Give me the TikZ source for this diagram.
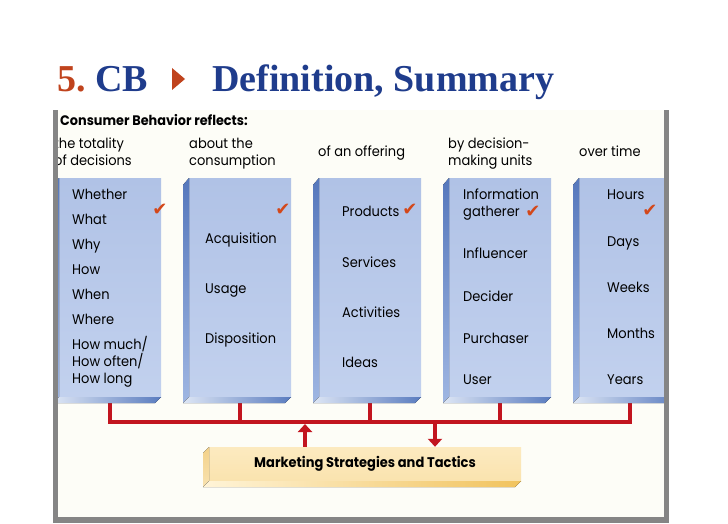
\documentclass[tikz,border=0pt]{standalone}
\usepackage{fontspec}
\setmainfont{Poppins}[FakeStretch=0.93]
\newfontfamily\titlefont{Liberation Serif}
\newfontfamily\symfont{DejaVu Sans}
\usetikzlibrary{arrows.meta}
\definecolor{tred}{HTML}{C0431D}
\definecolor{tnavy}{HTML}{1F3C8C}
\definecolor{panel}{HTML}{FDFDF7}
\definecolor{framegray}{HTML}{858585}
\definecolor{faceA}{HTML}{B0C2E6}
\definecolor{faceB}{HTML}{C2D1EE}
\definecolor{bevA}{HTML}{5678BC}
\definecolor{bevB}{HTML}{9FB6E2}
\definecolor{botA}{HTML}{DDE6F5}
\definecolor{botB}{HTML}{5A7CBF}
\definecolor{yfaceA}{HTML}{FCEAC0}
\definecolor{yfaceB}{HTML}{FAE3AE}
\definecolor{ybevA}{HTML}{F3D189}
\definecolor{ybevB}{HTML}{F8E2B0}
\definecolor{ybotA}{HTML}{FFF4D8}
\definecolor{ybotB}{HTML}{F1C35E}
\definecolor{cbred}{HTML}{C2151F}
\definecolor{checkc}{HTML}{D3481A}
\tikzset{
  titletext/.style={anchor=base west, inner sep=0pt, font=\titlefont\bfseries\fontsize{38}{38}\selectfont},
  colface/.style={shade, top color=faceA, bottom color=faceB, minimum width=102pt, minimum height=219pt, inner sep=0pt},
  mface/.style={shade, top color=yfaceA, bottom color=yfaceB, minimum width=312pt, minimum height=34pt, inner sep=0pt, font=\bfseries\fontsize{14}{16}\selectfont},
  item/.style={anchor=base west, inner sep=0pt, font=\fontsize{14}{16}\selectfont},
  head/.style={anchor=base west, inner sep=0pt, font=\fontsize{14}{16}\selectfont},
  chk/.style={inner sep=0pt, text=checkc, font=\symfont\fontsize{18}{18}\selectfont},
  redline/.style={draw=cbred, line width=4.5pt},
  redtip/.style={-{Triangle[width=14pt,length=8pt]}}
}
\begin{document}
\begin{tikzpicture}[x=1pt,y=-1pt]
\useasboundingbox (0,0) rectangle (728,524);
\fill[white] (0,0) rectangle (728,524);
\fill[panel] (53,110) rectangle (669,523);
% title
\node[titletext, text=tred] (t5) at (57,92) {5.};
\node[titletext, text=tnavy] (tcb) at (95,92) {CB};
\fill[tred] (172,68) -- (185,79) -- (172,90) -- cycle;
\node[titletext, text=tnavy] (tdef) at (212,92) {Definition, Summary};
% heading
\node[anchor=base west, inner sep=0pt, font=\bfseries\fontsize{13.8}{16}\selectfont] (cbr) at (60,126) {Consumer Behavior reflects:};
\node[head] (h1a) at (54,149) {the totality};
\node[head] (h1b) at (54,165) {of decisions};
\node[head] (h2a) at (189,149) {about the};
\node[head] (h2b) at (189,165) {consumption};
\node[head] (h3) at (318,157) {of an offering};
\node[head] (h4a) at (448,149) {by decision-};
\node[head] (h4b) at (448,165) {making units};
\node[head] (h5) at (579,157) {over time};
% columns (faces as nodes)
\begin{scope}
\clip (58,100) rectangle (664,524);
\foreach \i in {1,...,5}{
  \pgfmathsetmacro{\xo}{53+130*(\i-1)}
  \node[colface] (c\i) at ({\xo+57},287.5) {};
  \fill[top color=bevA, bottom color=bevB] (\xo,185) -- ({\xo+6},178) -- ({\xo+6},397) -- (\xo,403) -- cycle;
}
\coordinate (bar) at (0,422);
\draw[redline] (c1.south) -- (c1.south |- bar) -- (c5.south |- bar) -- (c5.south);
\foreach \i in {2,3,4}{ \draw[redline] (c\i.south) -- (c\i.south |- bar); }
\foreach \i in {1,...,5}{
  \pgfmathsetmacro{\xo}{53+130*(\i-1)}
  \fill[left color=botA, right color=botB] (\xo,403) -- ({\xo+6},397) -- ({\xo+108},397) -- ({\xo+102},403) -- cycle;
}
\end{scope}
% column 1
\node[item] (w1) at (72,199) {Whether};
\node[item] (w2) at (72,224) {What};
\node[item] (w3) at (72,249) {Why};
\node[item] (w4) at (72,274) {How};
\node[item] (w5) at (72,299) {When};
\node[item] (w6) at (72,324) {Where};
\node[item] (w7) at (72,349) {How much/};
\node[item] (w8) at (72,366) {How often/};
\node[item] (w9) at (72,383) {How long};
\node[chk] (k1) at (160,210) {✔};
% column 2
\node[item] (u1) at (205,243) {Acquisition};
\node[item] (u2) at (205,293) {Usage};
\node[item] (u3) at (205,343) {Disposition};
\node[chk] (k2) at (283,210) {✔};
% column 3
\node[item] (o1) at (342,216) {Products};
\node[chk] (k3) at (410,210) {✔};
\node[item] (o2) at (342,267) {Services};
\node[item] (o3) at (342,317) {Activities};
\node[item] (o4) at (342,367) {Ideas};
% column 4
\node[item] (d1) at (463,199) {Information};
\node[item] (d2) at (463,216) {gatherer};
\node[chk] (k4) at (533,212) {✔};
\node[item] (d3) at (463,258) {Influencer};
\node[item] (d4) at (463,301) {Decider};
\node[item] (d5) at (463,343) {Purchaser};
\node[item] (d6) at (463,384) {User};
% column 5
\node[item] (e1) at (607,199) {Hours};
\node[chk] (k5) at (650,211) {✔};
\node[item] (e2) at (607,246) {Days};
\node[item] (e3) at (607,292) {Weeks};
\node[item] (e4) at (607,338) {Months};
\node[item] (e5) at (607,384) {Years};
% marketing box
\node[mface] (m) at (365,464) {Marketing Strategies and Tactics};
\fill[top color=ybevA, bottom color=ybevB] (203,453) -- (209,447) -- (209,481) -- (203,487) -- cycle;
\fill[left color=ybotA, right color=ybotB] (203,487) -- (209,481) -- (521,481) -- (515,487) -- cycle;
\coordinate (up) at (305,424);
\coordinate (dn) at (435,422);
\draw[redline, redtip] (m.north -| up) -- (up);
\draw[redline, redtip] (dn) -- (m.north -| dn);
% frame
\fill[framegray] (53,110) rectangle (58,523);
\fill[framegray] (664,110) rectangle (669,523);
\fill[framegray] (53,517) rectangle (669,523);
\end{tikzpicture}
\end{document}
